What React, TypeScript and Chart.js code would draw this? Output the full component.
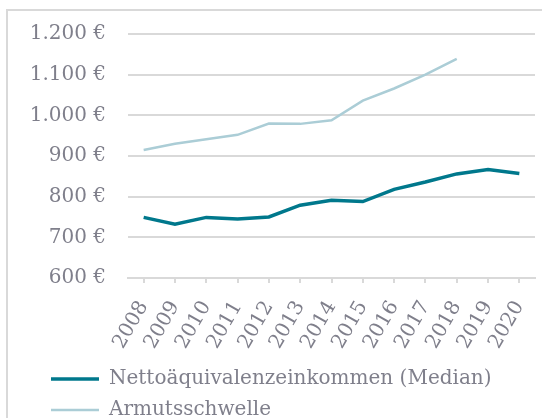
import React, { useEffect, useRef } from "react";
import { Chart, registerables } from "chart.js";

Chart.register(...registerables);

const years = ["2008", "2009", "2010", "2011", "2012", "2013", "2014", "2015", "2016", "2017", "2018", "2019", "2020"];
const medianIncome = [749, 732, 749, 745, 750, 779, 791, 788, 818, 836, 856, 867, 857];
const povertyLine = [915, 930, 941, 952, 980, 979, 988, 1036, 1066, 1100, 1139, null, null];
const seriesNames = ["Nettoäquivalenzeinkommen (Median)", "Armutsschwelle"];
const yMin = 600;
const yMax = 1200;
const yStep = 100;

const TEXT = "#7f7f8b";
const GRID = "#d9d9d9";
const FONT = "'DejaVu Serif', serif";

function euro(v: number): string {
  if (v >= 1000) {
    const th = Math.floor(v / 1000);
    const rest = String(v % 1000).padStart(3, "0");
    return `${th}.${rest} €`;
  }
  return `${v} €`;
}

const framePlugin = {
  id: "frame",
  beforeDraw(chart: any) {
    const ctx = chart.ctx;
    ctx.save();
    ctx.strokeStyle = GRID;
    ctx.lineWidth = 2;
    ctx.strokeRect(7, 10, 700, 700);
    ctx.restore();
  },
};

const legendShiftPlugin = {
  id: "legendShift",
  afterLayout(chart: any) {
    const l = chart.legend;
    if (l) {
      l.left += 40;
    }
  },
};

export default function App() {
  const ref = useRef<HTMLCanvasElement | null>(null);
  useEffect(() => {
    if (!ref.current) return;
    const chart = new Chart(ref.current, {
      type: "line",
      data: {
        labels: years,
        datasets: [
          {
            label: seriesNames[0],
            data: medianIncome,
            borderColor: "#00788c",
            backgroundColor: "#00788c",
            borderWidth: 3.5,
            pointRadius: 0,
            tension: 0,
          },
          {
            label: seriesNames[1],
            data: povertyLine,
            borderColor: "#abcdd6",
            backgroundColor: "#abcdd6",
            borderWidth: 2.5,
            pointRadius: 0,
            tension: 0,
            spanGaps: false,
          },
        ],
      },
      options: {
        animation: false,
        responsive: false,
        devicePixelRatio: 1,
        layout: { padding: { left: 0, right: 7, top: 33, bottom: 0 } },
        plugins: {
          tooltip: { enabled: false },
          legend: {
            position: "bottom",
            align: "start",
            labels: {
              usePointStyle: true,
              pointStyle: "line",
              pointStyleWidth: 48,
              padding: 11,
              color: TEXT,
              font: { family: FONT, size: 20 },
            },
          },
        },
        scales: {
          x: {
            type: "category",
            offset: true,
            grid: { display: true, drawOnChartArea: false, drawTicks: true, tickLength: 5, color: GRID, lineWidth: 2 },
            border: { display: true, color: GRID, width: 2 },
            ticks: {
              autoSkip: false,
              minRotation: 60,
              maxRotation: 60,
              padding: 14,
              color: TEXT,
              font: { family: FONT, size: 20 },
            },
            afterFit: (s: any) => {
              s.height = 80;
              s.paddingLeft = 0;
              s.paddingRight = 0;
            },
          },
          y: {
            min: yMin,
            max: yMax,
            grid: { color: GRID, lineWidth: 2, drawTicks: false },
            border: { display: false },
            ticks: {
              stepSize: yStep,
              padding: 22,
              color: TEXT,
              font: { family: FONT, size: 20 },
              callback: (v: any) => euro(Number(v)),
            },
            afterFit: (s: any) => {
              s.width = 128;
            },
          },
        },
      },
      plugins: [framePlugin, legendShiftPlugin],
    });
    return () => chart.destroy();
  }, []);
  return (
    <div style={{ position: "fixed", left: 0, top: 0, width: 542, height: 418, overflow: "hidden", background: "#fff" }}>
      <canvas ref={ref} width={542} height={430} style={{ display: "block", width: 542, height: 430 }} />
    </div>
  );
}
